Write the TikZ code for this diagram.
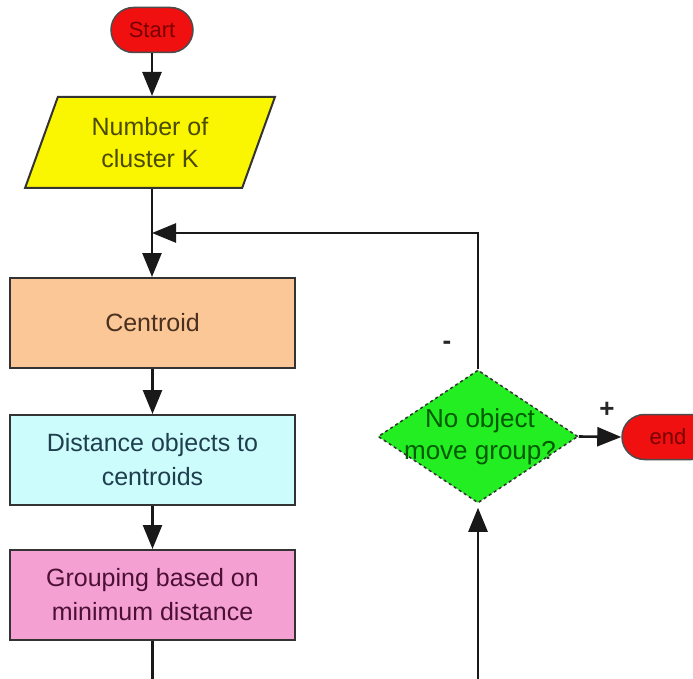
\documentclass[tikz,border=0pt]{standalone}
\usepackage{fontspec}
\setmainfont{Liberation Sans}
\usetikzlibrary{shapes.geometric,shapes.misc,arrows.meta}
\definecolor{termfill}{HTML}{F01010}
\definecolor{termtext}{HTML}{7A0000}
\definecolor{inpfill}{HTML}{FAF500}
\definecolor{inptext}{HTML}{4A4A00}
\definecolor{cenfill}{HTML}{FBC796}
\definecolor{centext}{HTML}{4A3020}
\definecolor{disfill}{HTML}{CCFCFC}
\definecolor{distext}{HTML}{1F3F4F}
\definecolor{grpfill}{HTML}{F5A0D2}
\definecolor{grptext}{HTML}{4D1035}
\definecolor{diafill}{HTML}{22EE22}
\definecolor{diatext}{HTML}{005A00}
\tikzset{
  term/.style={rounded rectangle, draw=black!70, line width=1.5pt, fill=termfill,
    text=termtext, font=\fontsize{22}{24}\selectfont, minimum height=45pt, inner sep=0pt},
  procbox/.style={rectangle, draw=black!80, line width=2pt, minimum width=285pt,
    minimum height=90pt, inner sep=0pt, align=center, font=\fontsize{25}{34}\selectfont},
  inbox/.style={trapezium, trapezium left angle=67.6, trapezium right angle=112.4,
    trapezium stretches=true, draw=black!80, line width=2pt, fill=inpfill,
    minimum width=250pt, minimum height=91pt, inner sep=0pt, align=center,
    text=inptext, font=\fontsize{25}{32}\selectfont},
  decbox/.style={diamond, draw=black!80, line width=1.5pt, dashed, fill=diafill,
    minimum width=200pt, minimum height=133pt, inner sep=0pt},
  dectext/.style={align=center, text=diatext, font=\fontsize{26}{32}\selectfont},
  conn/.style={line width=2.6pt, black!90},
  arr/.style={conn, -{Triangle[length=24pt,width=19pt]}},
  signlab/.style={font=\fontsize{26}{26}\selectfont\bfseries, text=black!85}
}
\begin{document}
\begin{tikzpicture}[x=1pt,y=-1pt]
\useasboundingbox[fill=white] (0,0) rectangle (693,679);
\begin{scope}
\clip (0,0) rectangle (693,679);
\node[term, minimum width=82pt] (start) at (152,30) {Start};
\node[inbox] (inp) at (150,142.5) {Number of\\cluster K};
\node[procbox, fill=cenfill, text=centext] (cen) at (152.5,323) {Centroid};
\node[procbox, fill=disfill, text=distext] (dis) at (152.5,460) {Distance objects to\\centroids};
\node[procbox, fill=grpfill, text=grptext] (grp) at (152.5,595) {Grouping based on\\minimum distance};
\node[decbox] (dia) at (478,436.5) {};
\node[dectext] (diat) at (480,436.5) {No object\\move group?};
\node[term, minimum width=92pt] (end) at (668,437) {end};
\node[signlab] (minus) at (447,345) {-};
\node[signlab] (plus) at (607,410) {+};
\coordinate (join) at (152,233);
\coordinate (grpout) at (152.5,679);
\coordinate (diain) at (478,679);

\draw[arr] (start.south) -- (start.south |- inp.north);
\draw[conn] (start.south |- inp.south) -- (join);
\draw[arr] (join) -- (join |- cen.north);
\draw[arr] (dia.north) |- (join);
\draw[arr] (cen.south) -- (dis.north);
\draw[arr] (dis.south) -- (grp.north);
\draw[conn] (grp.south) -- (grpout);
\draw[arr, shorten >=4pt] (diain) -- (dia.south);
\draw[arr] (dia.east) -- (end.west);
\end{scope}
\end{tikzpicture}
\end{document}
